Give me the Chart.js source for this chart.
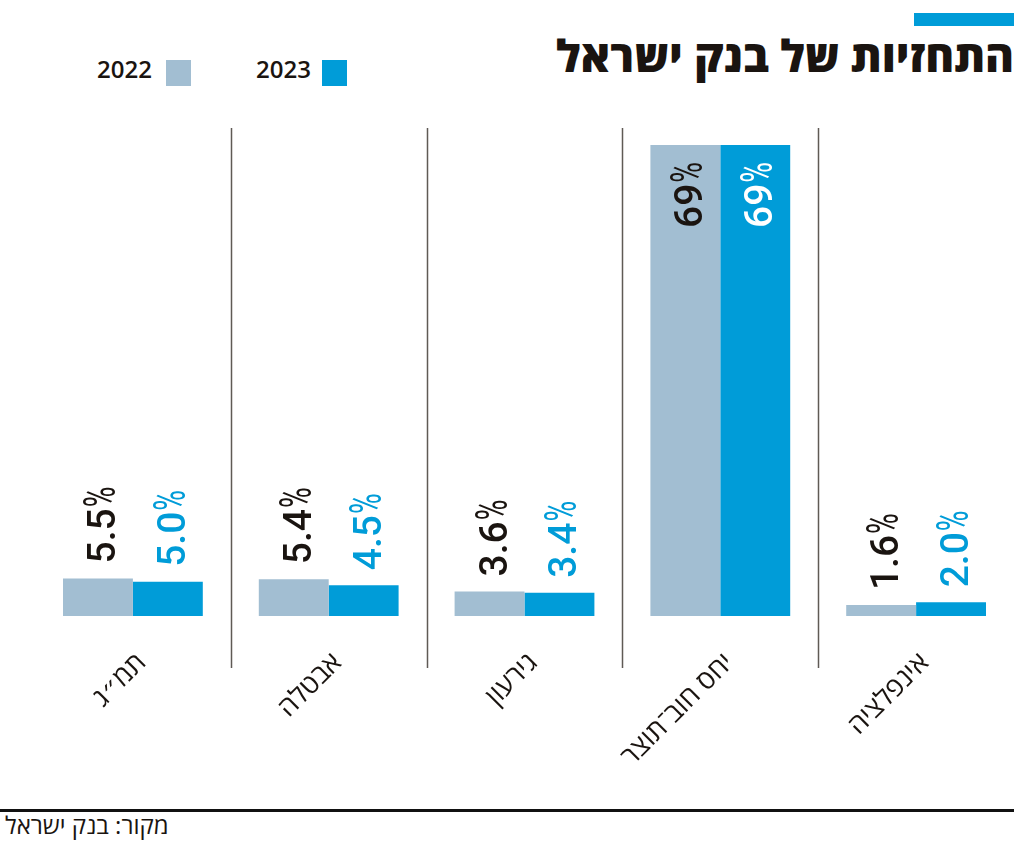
<!DOCTYPE html>
<html lang="he">
<head>
<meta charset="utf-8">
<script src="https://cdn.jsdelivr.net/npm/chart.js@4.4.1/dist/chart.umd.min.js"></script>
<style>
  html, body { margin: 0; padding: 0; background: #ffffff; }
  body { width: 1024px; height: 841px; position: relative; overflow: hidden; font-family: "Open Sans", "DejaVu Sans", sans-serif; color: #1a1410; }
  #chartWrap { position: absolute; left: 0; top: 0; width: 1024px; height: 800px; }
  #accent { position: absolute; left: 914px; top: 13px; width: 100px; height: 13px; background: #009cd8; }
  #title { position: absolute; right: 10px; top: 33px; font-size: 44px; font-weight: 800; line-height: 1; direction: rtl; white-space: nowrap; }
  .legText { position: absolute; top: 57px; font-size: 24px; font-weight: 600; line-height: 1; }
  .legBox { position: absolute; top: 60px; width: 25px; height: 26px; }
  #rule { position: absolute; left: 0; top: 809px; width: 1014px; height: 3px; background: #111; }
  #source { position: absolute; left: 5px; top: 811px; font-size: 24px; line-height: 1.2; direction: rtl; white-space: nowrap; }
</style>
</head>
<body>
<div id="accent"></div>
<div id="title">התחזיות של בנק ישראל</div>
<span class="legText" id="leg0" style="left:97px">2022</span>
<div class="legBox" id="box0" style="left:166px"></div>
<span class="legText" id="leg1" style="left:256px">2023</span>
<div class="legBox" id="box1" style="left:322px"></div>
<div id="chartWrap"><canvas id="c" width="1024" height="800"></canvas></div>
<div id="rule"></div>
<div id="source">מקור: בנק ישראל</div>
<script>
const categories = ["תמ״ג", "אבטלה", "גירעון", "יחס חוב־תוצר", "אינפלציה"];
const seriesNames = ["2022", "2023"];
const values2022 = [5.5, 5.4, 3.6, 69, 1.6];
const values2023 = [5.0, 4.5, 3.4, 69, 2.0];
const colors = ["#a2bed2", "#009cd8"];

document.getElementById('box0').style.background = colors[0];
document.getElementById('box1').style.background = colors[1];

const separatorPlugin = {
  id: 'separators',
  beforeDatasetsDraw(chart) {
    const x = chart.scales.x;
    const ctx = chart.ctx;
    ctx.save();
    ctx.strokeStyle = '#5f5a55';
    ctx.lineWidth = 1.5;
    for (let i = 0; i < categories.length - 1; i++) {
      const px = Math.round((x.getPixelForTick(i) + x.getPixelForTick(i + 1)) / 2) + 0.5;
      ctx.beginPath();
      ctx.moveTo(px, 128);
      ctx.lineTo(px, 668);
      ctx.stroke();
    }
    ctx.restore();
  }
};

const NUM_FONT = '500 39px Roboto, "Liberation Sans", sans-serif';
const PCT_FONT = '400 44px Roboto, "Liberation Sans", sans-serif';
const PCT_SCALE = 0.64;

const valueLabelPlugin = {
  id: 'valueLabels',
  afterDatasetsDraw(chart) {
    const ctx = chart.ctx;
    chart.data.datasets.forEach((ds, di) => {
      const meta = chart.getDatasetMeta(di);
      meta.data.forEach((bar, i) => {
        const v = ds.data[i];
        const num = v >= 20 ? String(Math.round(v)) : v.toFixed(1);
        const inside = v >= 20;
        let color;
        if (inside) color = di === 0 ? '#1a1410' : '#ffffff';
        else color = di === 0 ? '#1a1410' : colors[1];
        ctx.save();
        ctx.fillStyle = color;
        ctx.font = NUM_FONT;
        const wNum = ctx.measureText(num).width;
        ctx.font = PCT_FONT;
        const wPct = ctx.measureText('%').width * PCT_SCALE;
        const total = wNum + 1 + wPct;
        const bx = bar.x + 17;
        let startY;
        if (inside) startY = bar.y + 17 + total;
        else startY = bar.y - 15;
        ctx.translate(bx, startY);
        ctx.rotate(-Math.PI / 2);
        ctx.textAlign = 'left';
        ctx.textBaseline = 'alphabetic';
        ctx.font = NUM_FONT;
        ctx.fillText(num, 0, 0);
        ctx.translate(wNum + 1, 0);
        ctx.scale(PCT_SCALE, 1);
        ctx.font = PCT_FONT;
        ctx.fillText('%', 0, 0);
        ctx.restore();
      });
    });
  }
};

new Chart(document.getElementById('c'), {
  type: 'bar',
  data: {
    labels: categories,
    datasets: [
      { label: seriesNames[0], data: values2022, backgroundColor: colors[0], borderWidth: 0, categoryPercentage: 0.714, barPercentage: 1.0 },
      { label: seriesNames[1], data: values2023, backgroundColor: colors[1], borderWidth: 0, categoryPercentage: 0.714, barPercentage: 1.0 }
    ]
  },
  options: {
    responsive: false,
    animation: false,
    events: [],
    layout: { padding: { top: 145, left: 35, right: 10, bottom: 0 } },
    plugins: { legend: { display: false }, tooltip: { enabled: false }, title: { display: false } },
    scales: {
      x: {
        grid: { display: false, drawTicks: false },
        border: { display: false },
        ticks: {
          minRotation: 45, maxRotation: 45,
          padding: 31,
          labelOffset: 9,
          color: '#1a1410',
          font: { family: '"Open Sans", "DejaVu Sans", sans-serif', size: 27 }
        },
        afterFit(scale) { scale.height = 184; }
      },
      y: {
        display: false,
        min: 0, max: 69,
        grid: { display: false }
      }
    }
  },
  plugins: [separatorPlugin, valueLabelPlugin]
});
</script>
</body>
</html>
